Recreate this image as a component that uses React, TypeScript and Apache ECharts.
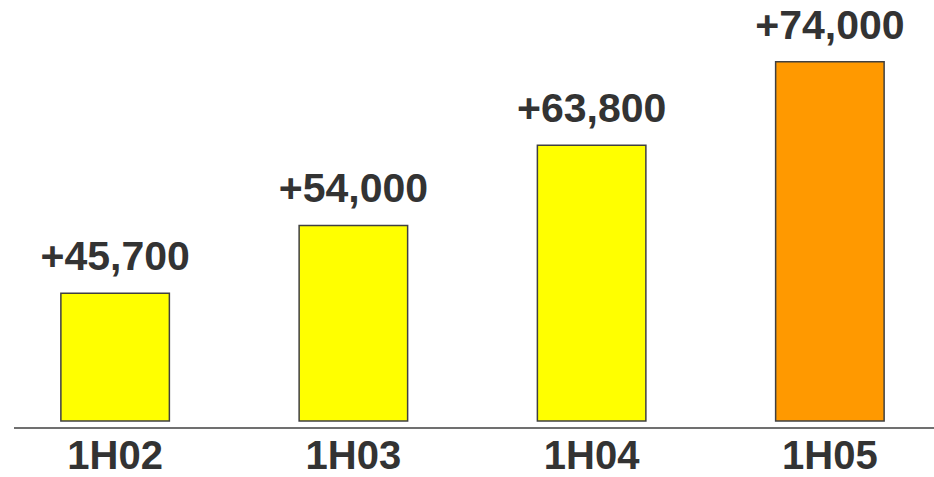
import React, { useEffect, useRef } from "react";
import * as echarts from "echarts";

const categories = ["1H02", "1H03", "1H04", "1H05"];
const values = [45700, 54000, 63800, 74000];
const valueLabels = ["+45,700", "+54,000", "+63,800", "+74,000"];
const barColors = ["#FFFF00", "#FFFF00", "#FFFF00", "#FF9900"];

export default function App() {
  const ref = useRef<HTMLDivElement>(null);
  useEffect(() => {
    if (!ref.current) return;
    const chart = echarts.init(ref.current, null, { renderer: "svg" });
    const font = "'Liberation Sans', Arial, sans-serif";
    chart.setOption({
      animation: false,
      backgroundColor: "#ffffff",
      grid: {
        left: -4,
        width: 953,
        top: 12,
        bottom: 56,
        containLabel: false,
        outerBoundsMode: "none",
      },
      xAxis: {
        type: "category",
        data: categories,
        axisLine: { show: false },
        axisTick: { show: false },
        axisLabel: {
          color: "#333333",
          fontSize: 40,
          fontWeight: "bold",
          fontFamily: font,
          margin: 14,
        },
      },
      yAxis: {
        type: "value",
        min: 30000,
        max: 80000,
        show: false,
        splitLine: { show: false },
      },
      graphic: [
        {
          type: "line",
          shape: { x1: 14, y1: 428, x2: 934, y2: 428 },
          style: { stroke: "#404040", lineWidth: 1.5 },
        },
      ],
      series: [
        {
          type: "bar",
          barWidth: 110,
          data: values.map((v, i) => ({
            value: v,
            itemStyle: { color: barColors[i] },
          })),
          itemStyle: { borderColor: "#404040", borderWidth: 1.5 },
          label: {
            show: true,
            position: "top",
            distance: 16,
            color: "#333333",
            fontSize: 41,
            fontWeight: "bold",
            fontFamily: font,
            formatter: (p: any) => valueLabels[p.dataIndex],
          },
        },
      ],
    });
    return () => chart.dispose();
  }, []);
  return (
    <div
      ref={ref}
      style={{ position: "fixed", left: 0, top: 0, width: 934, height: 477 }}
    />
  );
}
